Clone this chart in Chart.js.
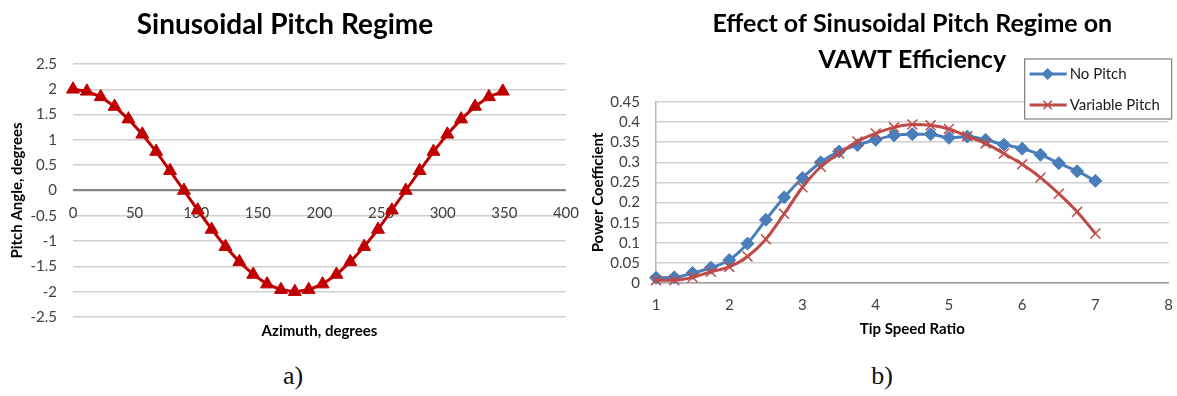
<!DOCTYPE html>
<html lang="en">
<head>
    <meta charset="UTF-8">
    <script src="https://cdn.jsdelivr.net/npm/chart.js"></script>
    <title>Sinusoidal pitch regime</title>
    <style>
        body { margin: 0; width: 1177px; height: 396px; background: #fff; position: relative; overflow: hidden; }
        #pitchWrap { position: absolute; left: 0; top: 0; width: 593px; height: 345px; }
        #effWrap { position: absolute; left: 582px; top: 0; width: 604px; height: 345px; }
        .caption { position: absolute; top: 361px; font: 26px "Liberation Serif", serif; color: #111; transform: translateX(-50%); }
    </style>
</head>
<body>

    <div id="pitchWrap"><canvas id="pitchChart" width="593" height="345"></canvas></div>
    <div id="effWrap"><canvas id="effChart" width="604" height="345"></canvas></div>
    <div class="caption" style="left: 293px;">a)</div>
    <div class="caption" style="left: 882px;">b)</div>

    <script>
        // a) blade pitch over one revolution
        var azimuth = [0, 11.25, 22.5, 33.75, 45, 56.25, 67.5, 78.75, 90, 101.25, 112.5, 123.75,
            135, 146.25, 157.5, 168.75, 180, 191.25, 202.5, 213.75, 225, 236.25, 247.5, 258.75,
            270, 281.25, 292.5, 303.75, 315, 326.25, 337.5, 348.75];
        var pitchAngle = [2, 1.96, 1.85, 1.66, 1.41, 1.11, 0.77, 0.39, 0, -0.39, -0.77, -1.11,
            -1.41, -1.66, -1.85, -1.96, -2, -1.96, -1.85, -1.66, -1.41, -1.11, -0.77, -0.39,
            0, 0.39, 0.77, 1.11, 1.41, 1.66, 1.85, 1.96];

        // b) power coefficient vs tip speed ratio
        var tipSpeedRatio = [1, 1.25, 1.5, 1.75, 2, 2.25, 2.5, 2.75, 3, 3.25, 3.5, 3.75, 4,
            4.25, 4.5, 4.75, 5, 5.25, 5.5, 5.75, 6, 6.25, 6.5, 6.75, 7];
        var noPitch = [0.013, 0.014, 0.025, 0.038, 0.057, 0.098, 0.157, 0.213, 0.261, 0.3, 0.327, 0.343, 0.356,
            0.367, 0.37, 0.37, 0.361, 0.364, 0.356, 0.344, 0.334, 0.319, 0.298, 0.278, 0.254];
        var variablePitch = [0.007, 0.007, 0.014, 0.028, 0.04, 0.066, 0.109, 0.172, 0.238, 0.289, 0.322, 0.352, 0.372,
            0.387, 0.394, 0.392, 0.383, 0.365, 0.347, 0.322, 0.295, 0.262, 0.222, 0.177, 0.123];

        var seriesNames = ['No Pitch', 'Variable Pitch'];

        Chart.defaults.font.family = 'Lato, "Open Sans", sans-serif';
        Chart.defaults.color = '#404040';

        function toPoints(xs, ys) {
            return xs.map((x, i) => ({ x: x, y: ys[i] }));
        }

        // plain numbers: 2 rather than 2.0, 0.4 rather than 0.40
        function plainNumber(v) {
            return String(+v.toFixed(2));
        }

        // legend in a white box, drawn over the grid
        var boxLegend = {
            id: 'boxLegend',
            afterDatasetsDraw(chart) {
                var ctx = chart.ctx;
                var right = chart.chartArea.right + 3;
                var left = right - 147;
                var top = 59, bottom = 119;
                ctx.save();
                ctx.fillStyle = '#fff';
                ctx.strokeStyle = '#808080';
                ctx.lineWidth = 1.2;
                ctx.fillRect(left, top, right - left, bottom - top);
                ctx.strokeRect(left, top, right - left, bottom - top);
                chart.data.datasets.forEach((ds, i) => {
                    var y = top + 15 + i * 31;
                    ctx.strokeStyle = ds.borderColor;
                    ctx.fillStyle = ds.pointBackgroundColor;
                    ctx.lineWidth = 3;
                    ctx.beginPath();
                    ctx.moveTo(left + 5, y);
                    ctx.lineTo(left + 42, y);
                    ctx.stroke();
                    ctx.strokeStyle = ds.pointBorderColor;
                    ctx.lineWidth = ds.pointBorderWidth;
                    Chart.helpers.drawPoint(ctx, {
                        pointStyle: ds.pointStyle, radius: ds.pointRadius - 1,
                        borderWidth: ds.pointBorderWidth, rotation: 0
                    }, left + 23, y);
                    ctx.fillStyle = '#1a1a1a';
                    ctx.font = '15px Lato, sans-serif';
                    ctx.textBaseline = 'middle';
                    ctx.fillText(ds.label, left + 45, y);
                });
                ctx.restore();
            }
        };

        var gridGrey = '#d0d0d0';

        new Chart(document.getElementById('pitchChart'), {
            type: 'line',
            data: {
                datasets: [{
                    label: 'Pitch Angle',
                    data: toPoints(azimuth, pitchAngle),
                    borderColor: '#C00000',
                    backgroundColor: '#C00000',
                    pointBackgroundColor: '#C00000',
                    pointBorderColor: '#C00000',
                    borderWidth: 3,
                    pointStyle: 'triangle',
                    pointRadius: 7.5,
                    pointBorderWidth: 1,
                    clip: false
                }]
            },
            options: {
                responsive: false,
                animation: false,
                layout: { padding: { right: 23 } },
                plugins: {
                    legend: { display: false },
                    tooltip: { enabled: false },
                    title: {
                        display: true,
                        text: 'Sinusoidal Pitch Regime',
                        color: '#000',
                        font: { size: 28, weight: 'bold' },
                        padding: { top: 8.2, bottom: 22.2 }
                    }
                },
                scales: {
                    x: {
                        type: 'linear', min: 0, max: 400,
                        position: { y: 0 },
                        grid: { display: false, drawTicks: false },
                        border: { display: false },
                        ticks: { stepSize: 50, padding: 14, font: { size: 15 } }
                    },
                    xTitle: {
                        type: 'linear', min: 0, max: 400,
                        position: 'bottom',
                        grid: { display: false, drawTicks: false },
                        border: { display: false },
                        ticks: { display: false },
                        title: {
                            display: true, text: 'Azimuth, degrees', color: '#000',
                            font: { size: 15, weight: 'bold' }, padding: { top: 0, bottom: 5 }
                        },
                        afterFit: s => { s.height = 28; }
                    },
                    y: {
                        min: -2.5, max: 2.5,
                        grid: {
                            color: c => c.tick && c.tick.value === 0 ? '#868686' : gridGrey,
                            lineWidth: c => c.tick && c.tick.value === 0 ? 2.2 : 1.5,
                            drawTicks: false
                        },
                        border: { display: false },
                        ticks: { stepSize: 0.5, padding: 16, autoSkip: false, font: { size: 15 }, callback: plainNumber },
                        title: {
                            display: true, text: 'Pitch Angle, degrees', color: '#000',
                            font: { size: 15, weight: 'bold' }, padding: { top: 8, bottom: 0 }
                        },
                        afterFit: s => { s.width = 73; }
                    }
                }
            }
        });

        new Chart(document.getElementById('effChart'), {
            type: 'line',
            data: {
                datasets: [{
                    label: seriesNames[0],
                    data: toPoints(tipSpeedRatio, noPitch),
                    borderColor: '#4A7EBB',
                    pointBackgroundColor: '#4A7EBB',
                    pointBorderColor: '#4A7EBB',
                    borderWidth: 3,
                    pointStyle: 'rectRot',
                    pointRadius: 6.5,
                    pointBorderWidth: 1,
                    cubicInterpolationMode: 'monotone',
                    order: 1,
                    clip: false
                }, {
                    label: seriesNames[1],
                    data: toPoints(tipSpeedRatio, variablePitch),
                    borderColor: '#BE4B48',
                    pointBackgroundColor: '#BE4B48',
                    pointBorderColor: '#BE4B48',
                    borderWidth: 3,
                    pointStyle: 'crossRot',
                    pointRadius: 7,
                    pointBorderWidth: 1.5,
                    cubicInterpolationMode: 'monotone',
                    order: 0,
                    clip: false
                }]
            },
            options: {
                responsive: false,
                animation: false,
                layout: { padding: { right: 8 } },
                plugins: {
                    legend: { display: false },
                    tooltip: { enabled: false },
                    title: {
                        display: true,
                        fullSize: false,
                        text: ['Effect of Sinusoidal Pitch Regime on', 'VAWT Efficiency'],
                        color: '#000',
                        font: { size: 25, weight: 'bold', lineHeight: '36px' },
                        padding: { top: 6, bottom: 24 }
                    }
                },
                scales: {
                    x: {
                        type: 'linear', min: 1, max: 8,
                        grid: { display: false, drawTicks: false },
                        border: { display: true, color: '#a0a0a0', width: 1.5 },
                        ticks: { stepSize: 1, padding: 13, font: { size: 15 } },
                        title: {
                            display: true, text: 'Tip Speed Ratio', color: '#000',
                            font: { size: 15, weight: 'bold' }, padding: { top: 0, bottom: 7 }
                        },
                        afterFit: s => { s.height = 62; }
                    },
                    y: {
                        min: 0, max: 0.45,
                        grid: { color: gridGrey, lineWidth: 1.5, drawTicks: false },
                        border: { display: true, color: '#b8b8b8', width: 1.5 },
                        ticks: { stepSize: 0.05, padding: 16, autoSkip: false, font: { size: 15 }, callback: plainNumber },
                        title: {
                            display: true, text: 'Power Coefficient', color: '#000',
                            font: { size: 15, weight: 'bold' }, padding: { top: 7, bottom: 0 }
                        },
                        afterFit: s => { s.width = 74; }
                    }
                }
            },
            plugins: [boxLegend]
        });
    </script>
</body>
</html>
